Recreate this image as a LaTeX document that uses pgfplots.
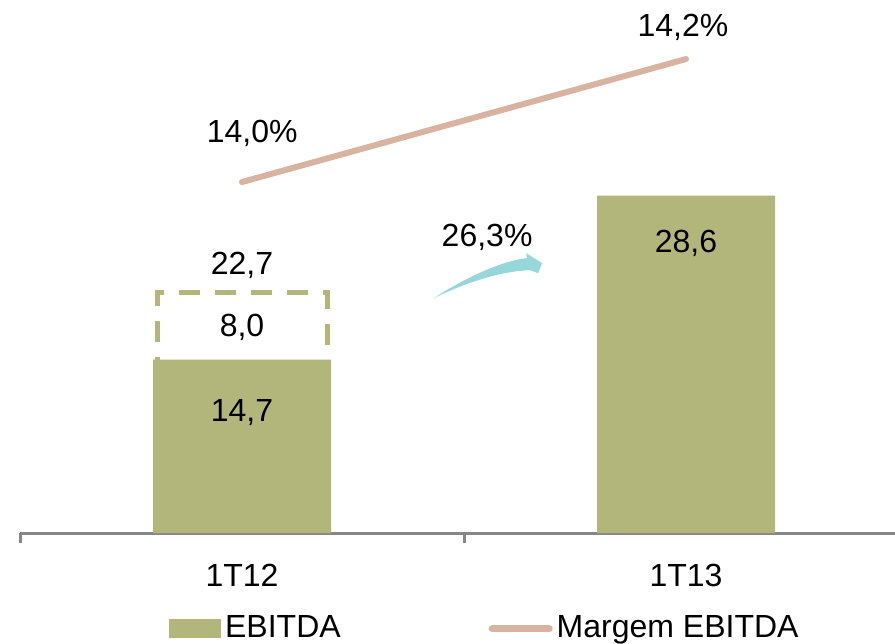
\documentclass[border=0pt]{standalone}
\usepackage{pgfplots}
\pgfplotsset{compat=1.18}
\usepackage{fontspec}
\setmainfont{Liberation Sans}

\definecolor{barolive}{HTML}{B3B67B}
\definecolor{margem}{HTML}{D8B4A0}
\definecolor{arrowteal}{HTML}{96D7D9}
\definecolor{axisgray}{HTML}{878787}

\pgfplotsset{
    chartbox/.style={
        at={(0,0)}, anchor=south west,
        scale only axis, width=437.5bp, height=266.5bp,
        xmin=-0.5, xmax=1.4707, clip=false,
    },
}

\begin{document}
\fontsize{16bp}{19bp}\selectfont
\begin{tikzpicture}
\useasboundingbox (-10bp,-55.5bp) rectangle (437.5bp,266.5bp);

% dashed frame for the 8,0 on top of 1T12 (its lower part hides behind the bar)
\begin{axis}[chartbox, ymin=0, ymax=45.2, axis lines=none,
    ybar stacked, bar width=85bp]
\addplot[draw=none, fill=none] coordinates {(0,12.0)};
\addplot[draw=barolive, fill=none, line width=2.5bp,
    dash pattern=on 10.5bp off 7.5bp] coordinates {(0,8.4)};
\end{axis}

% margin line (right scale)
\begin{axis}[chartbox, ymin=13.4293, ymax=14.296, axis lines=none]
\addplot[margem, line width=3bp, line cap=round] coordinates {(0,14.0) (1,14.2)};
\end{axis}

% EBITDA bars (left scale)
\begin{axis}[chartbox, ymin=0, ymax=45.2,
    axis x line=bottom, axis y line=none,
    x axis line style={-, draw=axisgray, line width=1.5bp},
    xtick={0,1}, xticklabels={1T12,1T13},
    minor xtick={-0.5,0.5},
    xtick align=outside,
    major tick length=0pt, minor tick length=5bp,
    minor tick style={draw=axisgray, line width=1.5bp},
    ytick=\empty,
    x tick label style={font=\fontsize{16bp}{19bp}\selectfont, anchor=center, yshift=-21bp},
    ybar, bar width=89bp,
    legend style={at={(0.170,-0.180)}, anchor=west, draw=none, fill=none,
        inner sep=0pt, legend columns=2,
        font=\fontsize{16bp}{19bp}\selectfont,
        nodes={inner xsep=2bp, inner ysep=0pt},
        /tikz/every even column/.append style={column sep=72bp}},
]
\addplot[fill=barolive, draw=none,
    legend image code/.code={\fill[barolive] (0bp,-4.75bp) rectangle (26bp,4.75bp);}]
    coordinates {(0,14.7) (1,28.6)};
\addlegendentry{EBITDA}
\addlegendimage{legend image code/.code={\draw[margem, line width=3.5bp, line cap=round] (0bp,0bp) -- (28.5bp,0bp);}}
\addlegendentry{Margem EBITDA}

\node at (axis cs:0,10.2) {14,7};
\node at (axis cs:0,17.4) {8,0};
\node at (axis cs:0,22.7) {22,7};
\node at (axis cs:1,24.6) {28,6};
\node at (axis cs:0.023,33.9) {14,0\%};
\node at (axis cs:0.993,42.9) {14,2\%};
\node at (axis cs:0.552,25.1) {26,3\%};

% growth arrow
\fill[arrowteal] (axis cs:0.432,19.92)
    .. controls (axis cs:0.514,21.9) and (axis cs:0.590,23.1) .. (axis cs:0.642,23.31)
    -- (axis cs:0.640,23.73) -- (axis cs:0.676,22.88) -- (axis cs:0.667,22.03)
    -- (axis cs:0.649,22.29)
    .. controls (axis cs:0.581,22.2) and (axis cs:0.502,21.2) .. cycle;
\end{axis}
\end{tikzpicture}
\end{document}
